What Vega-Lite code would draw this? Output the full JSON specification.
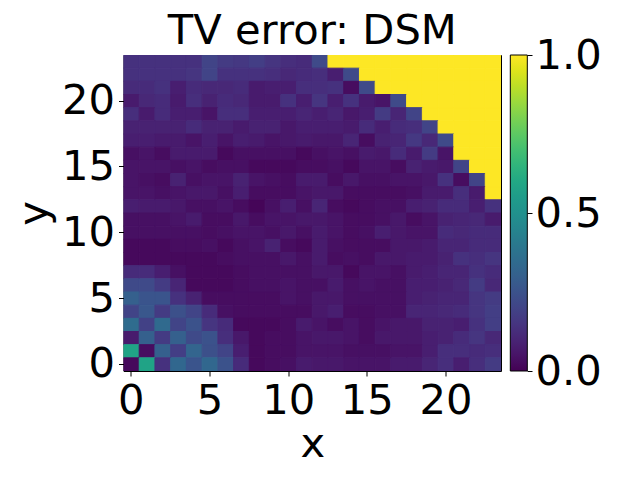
{"$schema":"https://vega.github.io/schema/vega-lite/v6.json","width":377.5,"height":316,"autosize":{"type":"none"},"padding":{"left":123.5,"top":55,"right":139,"bottom":109},"background":"white",
"title":{"text":"TV error: DSM","font":"DejaVu Sans","fontSize":41.67,"fontWeight":"normal","color":"black","anchor":"middle","offset":-18},
"config":{"view":{"stroke":"black","strokeWidth":1},"axis":{"labelFont":"DejaVu Sans","labelFontSize":41.67,"labelColor":"black","titleFont":"DejaVu Sans","titleFontSize":41.67,"titleFontWeight":"normal","titleColor":"black","tickColor":"black","tickSize":5,"tickWidth":1,"domain":false,"grid":false,"labelAngle":0}},
"layer":[{"data":{"values":[
{"y":23,"x":0,"v":0.14},{"y":23,"x":1,"v":0.14},{"y":23,"x":2,"v":0.14},{"y":23,"x":3,"v":0.14},{"y":23,"x":4,"v":0.14},{"y":23,"x":5,"v":0.2},{"y":23,"x":6,"v":0.17},{"y":23,"x":7,"v":0.16},{"y":23,"x":8,"v":0.18},{"y":23,"x":9,"v":0.15},{"y":23,"x":10,"v":0.13},{"y":23,"x":11,"v":0.12},{"y":23,"x":12,"v":0.22},{"y":23,"x":13,"v":1},{"y":23,"x":14,"v":1},{"y":23,"x":15,"v":1},{"y":23,"x":16,"v":1},{"y":23,"x":17,"v":1},{"y":23,"x":18,"v":1},{"y":23,"x":19,"v":1},{"y":23,"x":20,"v":1},{"y":23,"x":21,"v":1},{"y":23,"x":22,"v":1},{"y":23,"x":23,"v":1},
{"y":22,"x":0,"v":0.14},{"y":22,"x":1,"v":0.14},{"y":22,"x":2,"v":0.14},{"y":22,"x":3,"v":0.14},{"y":22,"x":4,"v":0.15},{"y":22,"x":5,"v":0.2},{"y":22,"x":6,"v":0.14},{"y":22,"x":7,"v":0.14},{"y":22,"x":8,"v":0.14},{"y":22,"x":9,"v":0.13},{"y":22,"x":10,"v":0.11},{"y":22,"x":11,"v":0.12},{"y":22,"x":12,"v":0.13},{"y":22,"x":13,"v":0.08},{"y":22,"x":14,"v":0.22},{"y":22,"x":15,"v":1},{"y":22,"x":16,"v":1},{"y":22,"x":17,"v":1},{"y":22,"x":18,"v":1},{"y":22,"x":19,"v":1},{"y":22,"x":20,"v":1},{"y":22,"x":21,"v":1},{"y":22,"x":22,"v":1},{"y":22,"x":23,"v":1},
{"y":21,"x":0,"v":0.12},{"y":21,"x":1,"v":0.12},{"y":21,"x":2,"v":0.14},{"y":21,"x":3,"v":0.08},{"y":21,"x":4,"v":0.12},{"y":21,"x":5,"v":0.11},{"y":21,"x":6,"v":0.11},{"y":21,"x":7,"v":0.12},{"y":21,"x":8,"v":0.07},{"y":21,"x":9,"v":0.08},{"y":21,"x":10,"v":0.08},{"y":21,"x":11,"v":0.13},{"y":21,"x":12,"v":0.13},{"y":21,"x":13,"v":0.14},{"y":21,"x":14,"v":0.03},{"y":21,"x":15,"v":0.22},{"y":21,"x":16,"v":1},{"y":21,"x":17,"v":1},{"y":21,"x":18,"v":1},{"y":21,"x":19,"v":1},{"y":21,"x":20,"v":1},{"y":21,"x":21,"v":1},{"y":21,"x":22,"v":1},{"y":21,"x":23,"v":1},
{"y":20,"x":0,"v":0.07},{"y":20,"x":1,"v":0.11},{"y":20,"x":2,"v":0.12},{"y":20,"x":3,"v":0.07},{"y":20,"x":4,"v":0.13},{"y":20,"x":5,"v":0.09},{"y":20,"x":6,"v":0.12},{"y":20,"x":7,"v":0.11},{"y":20,"x":8,"v":0.07},{"y":20,"x":9,"v":0.07},{"y":20,"x":10,"v":0.14},{"y":20,"x":11,"v":0.08},{"y":20,"x":12,"v":0.15},{"y":20,"x":13,"v":0.08},{"y":20,"x":14,"v":0.14},{"y":20,"x":15,"v":0.07},{"y":20,"x":16,"v":0.05},{"y":20,"x":17,"v":0.22},{"y":20,"x":18,"v":1},{"y":20,"x":19,"v":1},{"y":20,"x":20,"v":1},{"y":20,"x":21,"v":1},{"y":20,"x":22,"v":1},{"y":20,"x":23,"v":1},
{"y":19,"x":0,"v":0.13},{"y":19,"x":1,"v":0.07},{"y":19,"x":2,"v":0.12},{"y":19,"x":3,"v":0.08},{"y":19,"x":4,"v":0.08},{"y":19,"x":5,"v":0.05},{"y":19,"x":6,"v":0.13},{"y":19,"x":7,"v":0.13},{"y":19,"x":8,"v":0.08},{"y":19,"x":9,"v":0.08},{"y":19,"x":10,"v":0.08},{"y":19,"x":11,"v":0.1},{"y":19,"x":12,"v":0.08},{"y":19,"x":13,"v":0.1},{"y":19,"x":14,"v":0.06},{"y":19,"x":15,"v":0.08},{"y":19,"x":16,"v":0.17},{"y":19,"x":17,"v":0.1},{"y":19,"x":18,"v":0.2},{"y":19,"x":19,"v":1},{"y":19,"x":20,"v":1},{"y":19,"x":21,"v":1},{"y":19,"x":22,"v":1},{"y":19,"x":23,"v":1},
{"y":18,"x":0,"v":0.09},{"y":18,"x":1,"v":0.09},{"y":18,"x":2,"v":0.09},{"y":18,"x":3,"v":0.09},{"y":18,"x":4,"v":0.12},{"y":18,"x":5,"v":0.09},{"y":18,"x":6,"v":0.09},{"y":18,"x":7,"v":0.07},{"y":18,"x":8,"v":0.09},{"y":18,"x":9,"v":0.09},{"y":18,"x":10,"v":0.06},{"y":18,"x":11,"v":0.08},{"y":18,"x":12,"v":0.08},{"y":18,"x":13,"v":0.08},{"y":18,"x":14,"v":0.07},{"y":18,"x":15,"v":0.12},{"y":18,"x":16,"v":0.08},{"y":18,"x":17,"v":0.12},{"y":18,"x":18,"v":0.13},{"y":18,"x":19,"v":0.2},{"y":18,"x":20,"v":1},{"y":18,"x":21,"v":1},{"y":18,"x":22,"v":1},{"y":18,"x":23,"v":1},
{"y":17,"x":0,"v":0.08},{"y":17,"x":1,"v":0.08},{"y":17,"x":2,"v":0.07},{"y":17,"x":3,"v":0.07},{"y":17,"x":4,"v":0.05},{"y":17,"x":5,"v":0.08},{"y":17,"x":6,"v":0.05},{"y":17,"x":7,"v":0.08},{"y":17,"x":8,"v":0.07},{"y":17,"x":9,"v":0.05},{"y":17,"x":10,"v":0.06},{"y":17,"x":11,"v":0.07},{"y":17,"x":12,"v":0.06},{"y":17,"x":13,"v":0.06},{"y":17,"x":14,"v":0.1},{"y":17,"x":15,"v":0.03},{"y":17,"x":16,"v":0.09},{"y":17,"x":17,"v":0.1},{"y":17,"x":18,"v":0.16},{"y":17,"x":19,"v":0.11},{"y":17,"x":20,"v":0.22},{"y":17,"x":21,"v":1},{"y":17,"x":22,"v":1},{"y":17,"x":23,"v":1},
{"y":16,"x":0,"v":0.04},{"y":16,"x":1,"v":0.05},{"y":16,"x":2,"v":0.03},{"y":16,"x":3,"v":0.07},{"y":16,"x":4,"v":0.07},{"y":16,"x":5,"v":0.07},{"y":16,"x":6,"v":0.02},{"y":16,"x":7,"v":0.04},{"y":16,"x":8,"v":0.04},{"y":16,"x":9,"v":0.04},{"y":16,"x":10,"v":0.04},{"y":16,"x":11,"v":0.02},{"y":16,"x":12,"v":0.04},{"y":16,"x":13,"v":0.05},{"y":16,"x":14,"v":0.04},{"y":16,"x":15,"v":0.07},{"y":16,"x":16,"v":0.06},{"y":16,"x":17,"v":0.12},{"y":16,"x":18,"v":0.07},{"y":16,"x":19,"v":0.17},{"y":16,"x":20,"v":0.05},{"y":16,"x":21,"v":1},{"y":16,"x":22,"v":1},{"y":16,"x":23,"v":1},
{"y":15,"x":0,"v":0.05},{"y":15,"x":1,"v":0.05},{"y":15,"x":2,"v":0.05},{"y":15,"x":3,"v":0.04},{"y":15,"x":4,"v":0.05},{"y":15,"x":5,"v":0.03},{"y":15,"x":6,"v":0.04},{"y":15,"x":7,"v":0.04},{"y":15,"x":8,"v":0.02},{"y":15,"x":9,"v":0.02},{"y":15,"x":10,"v":0.02},{"y":15,"x":11,"v":0.03},{"y":15,"x":12,"v":0.03},{"y":15,"x":13,"v":0.04},{"y":15,"x":14,"v":0.02},{"y":15,"x":15,"v":0.05},{"y":15,"x":16,"v":0.05},{"y":15,"x":17,"v":0.03},{"y":15,"x":18,"v":0.09},{"y":15,"x":19,"v":0.07},{"y":15,"x":20,"v":0.06},{"y":15,"x":21,"v":0.2},{"y":15,"x":22,"v":1},{"y":15,"x":23,"v":1},
{"y":14,"x":0,"v":0.05},{"y":14,"x":1,"v":0.04},{"y":14,"x":2,"v":0.03},{"y":14,"x":3,"v":0.09},{"y":14,"x":4,"v":0.04},{"y":14,"x":5,"v":0.05},{"y":14,"x":6,"v":0.05},{"y":14,"x":7,"v":0.09},{"y":14,"x":8,"v":0.05},{"y":14,"x":9,"v":0.04},{"y":14,"x":10,"v":0.03},{"y":14,"x":11,"v":0.07},{"y":14,"x":12,"v":0.07},{"y":14,"x":13,"v":0.03},{"y":14,"x":14,"v":0.06},{"y":14,"x":15,"v":0.04},{"y":14,"x":16,"v":0.04},{"y":14,"x":17,"v":0.05},{"y":14,"x":18,"v":0.05},{"y":14,"x":19,"v":0.06},{"y":14,"x":20,"v":0.14},{"y":14,"x":21,"v":0.03},{"y":14,"x":22,"v":0.2},{"y":14,"x":23,"v":1},
{"y":13,"x":0,"v":0.05},{"y":13,"x":1,"v":0.05},{"y":13,"x":2,"v":0.04},{"y":13,"x":3,"v":0.05},{"y":13,"x":4,"v":0.06},{"y":13,"x":5,"v":0.06},{"y":13,"x":6,"v":0.04},{"y":13,"x":7,"v":0.08},{"y":13,"x":8,"v":0.03},{"y":13,"x":9,"v":0.03},{"y":13,"x":10,"v":0.03},{"y":13,"x":11,"v":0.05},{"y":13,"x":12,"v":0.06},{"y":13,"x":13,"v":0.06},{"y":13,"x":14,"v":0.03},{"y":13,"x":15,"v":0.03},{"y":13,"x":16,"v":0.03},{"y":13,"x":17,"v":0.03},{"y":13,"x":18,"v":0.04},{"y":13,"x":19,"v":0.07},{"y":13,"x":20,"v":0.07},{"y":13,"x":21,"v":0.13},{"y":13,"x":22,"v":0.07},{"y":13,"x":23,"v":1},
{"y":12,"x":0,"v":0.08},{"y":12,"x":1,"v":0.07},{"y":12,"x":2,"v":0.07},{"y":12,"x":3,"v":0.06},{"y":12,"x":4,"v":0.04},{"y":12,"x":5,"v":0.04},{"y":12,"x":6,"v":0.05},{"y":12,"x":7,"v":0.03},{"y":12,"x":8,"v":0.01},{"y":12,"x":9,"v":0.04},{"y":12,"x":10,"v":0.08},{"y":12,"x":11,"v":0.04},{"y":12,"x":12,"v":0.1},{"y":12,"x":13,"v":0.03},{"y":12,"x":14,"v":0.02},{"y":12,"x":15,"v":0.03},{"y":12,"x":16,"v":0.04},{"y":12,"x":17,"v":0.04},{"y":12,"x":18,"v":0.08},{"y":12,"x":19,"v":0.09},{"y":12,"x":20,"v":0.12},{"y":12,"x":21,"v":0.12},{"y":12,"x":22,"v":0.08},{"y":12,"x":23,"v":0.14},
{"y":11,"x":0,"v":0.04},{"y":11,"x":1,"v":0.04},{"y":11,"x":2,"v":0.04},{"y":11,"x":3,"v":0.05},{"y":11,"x":4,"v":0.07},{"y":11,"x":5,"v":0.03},{"y":11,"x":6,"v":0.03},{"y":11,"x":7,"v":0.06},{"y":11,"x":8,"v":0.03},{"y":11,"x":9,"v":0.05},{"y":11,"x":10,"v":0.05},{"y":11,"x":11,"v":0.06},{"y":11,"x":12,"v":0.06},{"y":11,"x":13,"v":0.05},{"y":11,"x":14,"v":0.03},{"y":11,"x":15,"v":0.03},{"y":11,"x":16,"v":0.04},{"y":11,"x":17,"v":0.06},{"y":11,"x":18,"v":0.03},{"y":11,"x":19,"v":0.05},{"y":11,"x":20,"v":0.09},{"y":11,"x":21,"v":0.1},{"y":11,"x":22,"v":0.11},{"y":11,"x":23,"v":0.07},
{"y":10,"x":0,"v":0.04},{"y":10,"x":1,"v":0.04},{"y":10,"x":2,"v":0.04},{"y":10,"x":3,"v":0.04},{"y":10,"x":4,"v":0.04},{"y":10,"x":5,"v":0.03},{"y":10,"x":6,"v":0.04},{"y":10,"x":7,"v":0.05},{"y":10,"x":8,"v":0.05},{"y":10,"x":9,"v":0.04},{"y":10,"x":10,"v":0.06},{"y":10,"x":11,"v":0.04},{"y":10,"x":12,"v":0.07},{"y":10,"x":13,"v":0.05},{"y":10,"x":14,"v":0.03},{"y":10,"x":15,"v":0.04},{"y":10,"x":16,"v":0.08},{"y":10,"x":17,"v":0.06},{"y":10,"x":18,"v":0.05},{"y":10,"x":19,"v":0.05},{"y":10,"x":20,"v":0.12},{"y":10,"x":21,"v":0.11},{"y":10,"x":22,"v":0.12},{"y":10,"x":23,"v":0.12},
{"y":9,"x":0,"v":0.02},{"y":9,"x":1,"v":0.02},{"y":9,"x":2,"v":0.02},{"y":9,"x":3,"v":0.03},{"y":9,"x":4,"v":0.03},{"y":9,"x":5,"v":0.04},{"y":9,"x":6,"v":0.02},{"y":9,"x":7,"v":0.04},{"y":9,"x":8,"v":0.05},{"y":9,"x":9,"v":0.09},{"y":9,"x":10,"v":0.03},{"y":9,"x":11,"v":0.02},{"y":9,"x":12,"v":0.07},{"y":9,"x":13,"v":0.04},{"y":9,"x":14,"v":0.03},{"y":9,"x":15,"v":0.03},{"y":9,"x":16,"v":0.03},{"y":9,"x":17,"v":0.06},{"y":9,"x":18,"v":0.06},{"y":9,"x":19,"v":0.07},{"y":9,"x":20,"v":0.1},{"y":9,"x":21,"v":0.1},{"y":9,"x":22,"v":0.12},{"y":9,"x":23,"v":0.12},
{"y":8,"x":0,"v":0.02},{"y":8,"x":1,"v":0.02},{"y":8,"x":2,"v":0.02},{"y":8,"x":3,"v":0.02},{"y":8,"x":4,"v":0.02},{"y":8,"x":5,"v":0.02},{"y":8,"x":6,"v":0.03},{"y":8,"x":7,"v":0.04},{"y":8,"x":8,"v":0.04},{"y":8,"x":9,"v":0.04},{"y":8,"x":10,"v":0.06},{"y":8,"x":11,"v":0.04},{"y":8,"x":12,"v":0.07},{"y":8,"x":13,"v":0.03},{"y":8,"x":14,"v":0.04},{"y":8,"x":15,"v":0.03},{"y":8,"x":16,"v":0.06},{"y":8,"x":17,"v":0.06},{"y":8,"x":18,"v":0.07},{"y":8,"x":19,"v":0.07},{"y":8,"x":20,"v":0.09},{"y":8,"x":21,"v":0.14},{"y":8,"x":22,"v":0.13},{"y":8,"x":23,"v":0.15},
{"y":7,"x":0,"v":0.12},{"y":7,"x":1,"v":0.12},{"y":7,"x":2,"v":0.08},{"y":7,"x":3,"v":0.04},{"y":7,"x":4,"v":0.02},{"y":7,"x":5,"v":0.02},{"y":7,"x":6,"v":0.02},{"y":7,"x":7,"v":0.03},{"y":7,"x":8,"v":0.04},{"y":7,"x":9,"v":0.04},{"y":7,"x":10,"v":0.04},{"y":7,"x":11,"v":0.04},{"y":7,"x":12,"v":0.06},{"y":7,"x":13,"v":0.06},{"y":7,"x":14,"v":0.02},{"y":7,"x":15,"v":0.05},{"y":7,"x":16,"v":0.05},{"y":7,"x":17,"v":0.04},{"y":7,"x":18,"v":0.07},{"y":7,"x":19,"v":0.08},{"y":7,"x":20,"v":0.1},{"y":7,"x":21,"v":0.1},{"y":7,"x":22,"v":0.14},{"y":7,"x":23,"v":0.12},
{"y":6,"x":0,"v":0.22},{"y":6,"x":1,"v":0.22},{"y":6,"x":2,"v":0.17},{"y":6,"x":3,"v":0.1},{"y":6,"x":4,"v":0.02},{"y":6,"x":5,"v":0.02},{"y":6,"x":6,"v":0.02},{"y":6,"x":7,"v":0.03},{"y":6,"x":8,"v":0.04},{"y":6,"x":9,"v":0.04},{"y":6,"x":10,"v":0.05},{"y":6,"x":11,"v":0.04},{"y":6,"x":12,"v":0.04},{"y":6,"x":13,"v":0.07},{"y":6,"x":14,"v":0.04},{"y":6,"x":15,"v":0.05},{"y":6,"x":16,"v":0.04},{"y":6,"x":17,"v":0.04},{"y":6,"x":18,"v":0.08},{"y":6,"x":19,"v":0.08},{"y":6,"x":20,"v":0.09},{"y":6,"x":21,"v":0.11},{"y":6,"x":22,"v":0.17},{"y":6,"x":23,"v":0.11},
{"y":5,"x":0,"v":0.3},{"y":5,"x":1,"v":0.26},{"y":5,"x":2,"v":0.26},{"y":5,"x":3,"v":0.14},{"y":5,"x":4,"v":0.09},{"y":5,"x":5,"v":0.03},{"y":5,"x":6,"v":0.03},{"y":5,"x":7,"v":0.03},{"y":5,"x":8,"v":0.03},{"y":5,"x":9,"v":0.03},{"y":5,"x":10,"v":0.05},{"y":5,"x":11,"v":0.04},{"y":5,"x":12,"v":0.06},{"y":5,"x":13,"v":0.06},{"y":5,"x":14,"v":0.04},{"y":5,"x":15,"v":0.04},{"y":5,"x":16,"v":0.04},{"y":5,"x":17,"v":0.04},{"y":5,"x":18,"v":0.08},{"y":5,"x":19,"v":0.09},{"y":5,"x":20,"v":0.1},{"y":5,"x":21,"v":0.1},{"y":5,"x":22,"v":0.15},{"y":5,"x":23,"v":0.17},
{"y":4,"x":0,"v":0.2},{"y":4,"x":1,"v":0.27},{"y":4,"x":2,"v":0.17},{"y":4,"x":3,"v":0.24},{"y":4,"x":4,"v":0.2},{"y":4,"x":5,"v":0.12},{"y":4,"x":6,"v":0.04},{"y":4,"x":7,"v":0.03},{"y":4,"x":8,"v":0.03},{"y":4,"x":9,"v":0.03},{"y":4,"x":10,"v":0.03},{"y":4,"x":11,"v":0.03},{"y":4,"x":12,"v":0.06},{"y":4,"x":13,"v":0.08},{"y":4,"x":14,"v":0.03},{"y":4,"x":15,"v":0.03},{"y":4,"x":16,"v":0.04},{"y":4,"x":17,"v":0.04},{"y":4,"x":18,"v":0.1},{"y":4,"x":19,"v":0.1},{"y":4,"x":20,"v":0.11},{"y":4,"x":21,"v":0.12},{"y":4,"x":22,"v":0.15},{"y":4,"x":23,"v":0.18},
{"y":3,"x":0,"v":0.35},{"y":3,"x":1,"v":0.19},{"y":3,"x":2,"v":0.34},{"y":3,"x":3,"v":0.2},{"y":3,"x":4,"v":0.25},{"y":3,"x":5,"v":0.15},{"y":3,"x":6,"v":0.12},{"y":3,"x":7,"v":0.02},{"y":3,"x":8,"v":0.02},{"y":3,"x":9,"v":0.02},{"y":3,"x":10,"v":0.03},{"y":3,"x":11,"v":0.07},{"y":3,"x":12,"v":0.05},{"y":3,"x":13,"v":0.03},{"y":3,"x":14,"v":0.05},{"y":3,"x":15,"v":0.03},{"y":3,"x":16,"v":0.05},{"y":3,"x":17,"v":0.06},{"y":3,"x":18,"v":0.06},{"y":3,"x":19,"v":0.09},{"y":3,"x":20,"v":0.09},{"y":3,"x":21,"v":0.08},{"y":3,"x":22,"v":0.14},{"y":3,"x":23,"v":0.18},
{"y":2,"x":0,"v":0.07},{"y":2,"x":1,"v":0.3},{"y":2,"x":2,"v":0.17},{"y":2,"x":3,"v":0.3},{"y":2,"x":4,"v":0.22},{"y":2,"x":5,"v":0.25},{"y":2,"x":6,"v":0.13},{"y":2,"x":7,"v":0.06},{"y":2,"x":8,"v":0.02},{"y":2,"x":9,"v":0.03},{"y":2,"x":10,"v":0.03},{"y":2,"x":11,"v":0.05},{"y":2,"x":12,"v":0.06},{"y":2,"x":13,"v":0.06},{"y":2,"x":14,"v":0.05},{"y":2,"x":15,"v":0.03},{"y":2,"x":16,"v":0.06},{"y":2,"x":17,"v":0.06},{"y":2,"x":18,"v":0.06},{"y":2,"x":19,"v":0.08},{"y":2,"x":20,"v":0.09},{"y":2,"x":21,"v":0.12},{"y":2,"x":22,"v":0.15},{"y":2,"x":23,"v":0.11},
{"y":1,"x":0,"v":0.58},{"y":1,"x":1,"v":0.03},{"y":1,"x":2,"v":0.3},{"y":1,"x":3,"v":0.18},{"y":1,"x":4,"v":0.32},{"y":1,"x":5,"v":0.24},{"y":1,"x":6,"v":0.2},{"y":1,"x":7,"v":0.08},{"y":1,"x":8,"v":0.02},{"y":1,"x":9,"v":0.03},{"y":1,"x":10,"v":0.03},{"y":1,"x":11,"v":0.05},{"y":1,"x":12,"v":0.05},{"y":1,"x":13,"v":0.05},{"y":1,"x":14,"v":0.04},{"y":1,"x":15,"v":0.04},{"y":1,"x":16,"v":0.04},{"y":1,"x":17,"v":0.05},{"y":1,"x":18,"v":0.05},{"y":1,"x":19,"v":0.08},{"y":1,"x":20,"v":0.13},{"y":1,"x":21,"v":0.13},{"y":1,"x":22,"v":0.12},{"y":1,"x":23,"v":0.13},
{"y":0,"x":0,"v":0.02},{"y":0,"x":1,"v":0.58},{"y":0,"x":2,"v":0.14},{"y":0,"x":3,"v":0.33},{"y":0,"x":4,"v":0.26},{"y":0,"x":5,"v":0.33},{"y":0,"x":6,"v":0.25},{"y":0,"x":7,"v":0.12},{"y":0,"x":8,"v":0.02},{"y":0,"x":9,"v":0.03},{"y":0,"x":10,"v":0.04},{"y":0,"x":11,"v":0.07},{"y":0,"x":12,"v":0.06},{"y":0,"x":13,"v":0.06},{"y":0,"x":14,"v":0.05},{"y":0,"x":15,"v":0.05},{"y":0,"x":16,"v":0.05},{"y":0,"x":17,"v":0.07},{"y":0,"x":18,"v":0.07},{"y":0,"x":19,"v":0.1},{"y":0,"x":20,"v":0.13},{"y":0,"x":21,"v":0.08},{"y":0,"x":22,"v":0.13},{"y":0,"x":23,"v":0.17}
]},
"mark":{"type":"rect","strokeWidth":1,"clip":true},
"encoding":{
"x":{"field":"x","type":"ordinal","scale":{"paddingInner":0,"paddingOuter":0},"axis":{"values":[0,5,10,15,20],"title":"x","labelPadding":4,"titlePadding":2}},
"y":{"field":"y","type":"ordinal","sort":"descending","scale":{"paddingInner":0,"paddingOuter":0},"axis":{"values":[0,5,10,15,20],"title":"y","labelPadding":4,"titlePadding":6}},
"color":{"field":"v","type":"quantitative","scale":{"scheme":"viridis","domain":[0,1]},"legend":null},
"stroke":{"field":"v","type":"quantitative","scale":{"scheme":"viridis","domain":[0,1]},"legend":null}
}},
{"data":{"values":[{"v":0},{"v":0.5},{"v":1}]},
"mark":{"type":"rule","strokeWidth":0},
"encoding":{"y":{"field":"v","type":"quantitative","scale":{"domain":[0,1]},"axis":{"orient":"right","offset":26,"values":[0,0.5,1],"format":".1f","title":null,"labelPadding":3,"labelAngle":0}},
"color":{"field":"v","type":"quantitative","scale":{"scheme":"viridis","domain":[0,1]},"legend":{"orient":"none","legendX":386.8,"legendY":0,"gradientLength":316,"gradientThickness":17,"gradientStrokeColor":"black","gradientStrokeWidth":1,"title":null,"labelOpacity":0,"labelFontSize":1}}}}],
"resolve":{"scale":{"y":"independent","color":"independent"},"axis":{"y":"independent"},"legend":{"color":"independent"}}}
